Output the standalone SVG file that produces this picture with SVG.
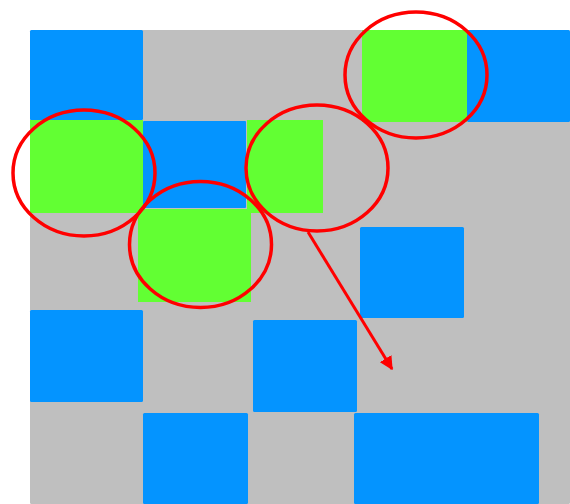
<svg xmlns="http://www.w3.org/2000/svg" width="570" height="504" viewBox="0 0 570 504">
<style>
.bg{fill:#bfbfbf}
.blue{fill:#0494ff}
.green{fill:#62ff33}
.ring{fill:none;stroke:#ff0000;stroke-width:3.5}
.conn{stroke:#ff0000;stroke-width:3;fill:none}
</style>
<defs>
<marker id="ah" viewBox="0 0 10 10" refX="9" refY="5" markerWidth="4.5" markerHeight="4.5" orient="auto" markerUnits="strokeWidth">
<path d="M0,0 L10,5 L0,10 z" fill="#ff0000"/>
</marker>
</defs>
<rect class="bg" x="30" y="30" width="540" height="474" rx="1.5"/>
<g id="tiles">
<rect class="blue" x="30" y="30" width="113" height="90" rx="1.5"/>
<rect class="blue" x="143" y="121" width="103" height="87" rx="1"/>
<rect class="blue" x="467" y="30" width="103" height="92" rx="1.5"/>
<rect class="blue" x="360" y="227" width="104" height="91" rx="1.5"/>
<rect class="blue" x="30" y="310" width="113" height="92" rx="1.5"/>
<rect class="blue" x="253" y="320" width="104" height="92" rx="1.5"/>
<rect class="blue" x="143" y="413" width="105" height="91" rx="1.5"/>
<rect class="blue" x="354" y="413" width="185" height="91" rx="1.5"/>
<rect class="green" x="30" y="120" width="113" height="93"/>
<rect class="green" x="247" y="120" width="76" height="93"/>
<rect class="green" x="138" y="209" width="113" height="93"/>
<rect class="green" x="362" y="30" width="105" height="92"/>
</g>
<g id="n1"><ellipse class="ring" cx="84" cy="173" rx="71" ry="63"/></g>
<g id="n2"><ellipse class="ring" cx="200.5" cy="244.5" rx="71" ry="63"/></g>
<g id="n3"><ellipse class="ring" cx="317" cy="168" rx="71" ry="63"/></g>
<g id="n4"><ellipse class="ring" cx="416" cy="75" rx="71" ry="63"/></g>
<g id="connectors">
<line class="conn" x1="308" y1="232" x2="392" y2="369" marker-end="url(#ah)"/>
</g>
</svg>
